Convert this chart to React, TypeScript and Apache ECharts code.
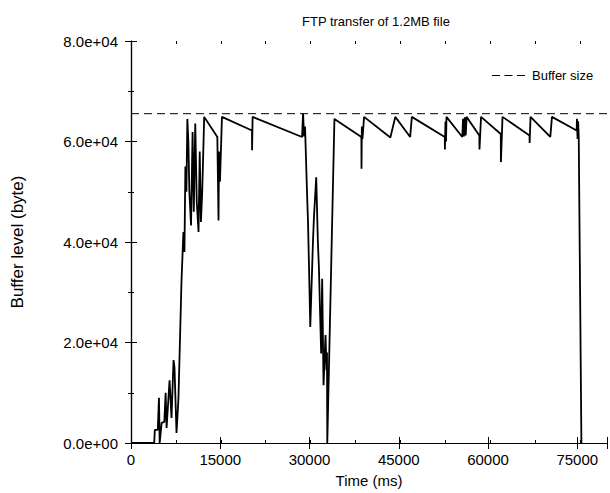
import React, { useEffect, useRef } from "react";
import * as echarts from "echarts";

const chartTitle = "FTP transfer of 1.2MB file";
const xAxisName = "Time (ms)";
const yAxisName = "Buffer level (byte)";
const legendLabel = "Buffer size";
const bufferSize = 65536;

// Time (ms) of each sample of the buffer trace
const timeMs = [
  0, 3900, 4000, 4500, 4700, 4820, 5150, 5600, 5820, 5980, 6480, 6810, 7150, 7310, 7650, 7980,
  8480, 8810, 8980, 9140, 9310, 9470, 9640, 9810, 10090, 10350, 10550, 10800, 11050, 11350,
  11550, 11750, 11970, 12300, 14510, 14710, 14790, 14950, 15290, 20330, 20350, 20440, 28750,
  28920, 29090, 29250, 29580, 29750, 29920, 30130, 30580, 30750, 31130, 31410, 31580, 31960,
  32130, 32360, 32690, 32860, 32940, 32990, 34190, 38720, 38740, 38800, 38900, 39170, 43590,
  44420, 46920, 47200, 52740, 52760, 52850, 52950, 53020, 55680, 55800, 55950, 56100, 56250,
  56400, 58550, 58570, 58830, 62150, 62170, 62440, 66980, 67000, 67150, 70470, 70750, 74900,
  74950, 75050, 75150, 75250, 75700,
];

// Buffer level (byte) of each sample
const bufferBytes = [
  0, 0, 2600, 2600, 9000, 0, 4000, 4200, 10000, 3000, 12500, 5000, 16500, 15000, 2000, 9000,
  32000, 42000, 38000, 55000, 50000, 64500, 60000, 50000, 43300, 61900, 46000, 63600, 48000, 42000,
  58000, 44000, 50000, 64900, 60900, 44300, 58000, 52000, 64900, 62200, 58250, 64900, 60900,
  65600, 61000, 63000, 50000, 44000, 35000, 23100, 40000, 45000, 52900, 40000, 35000, 17800,
  32700, 11500, 21500, 14500, 18000, 0, 64500, 60900, 54600, 63000, 60500, 64900, 60800,
  64900, 60900, 64900, 60900, 58400, 64000, 60000, 64900, 60900, 64500, 61000, 64800, 61200,
  64900, 61200, 58400, 64900, 61500, 55900, 64900, 61200, 59700, 64900, 60900, 64900, 62200,
  64500, 60500, 64000, 61000, 0,
];

const xMin = 0;
const xMax = 80000;
const xMajor = 15000;
const xMinor = 7500;
const yMin = 0;
const yMax = 80000;
const yMajor = 20000;

const FONT = "'Liberation Sans', Arial, Helvetica, sans-serif";
const DASH_ICON = "path://M0,0L8,0L8,1L0,1Z M12.5,0L20.5,0L20.5,1L12.5,1Z M25,0L33,0L33,1L25,1Z";

function fmtExp(v: number): string {
  const s = v.toExponential(1);
  return s.replace(/e([+-])(\d)$/, (_m: string, sign: string, d: string) => "e" + sign + "0" + d);
}

export default function App() {
  const ref = useRef<HTMLDivElement>(null);
  useEffect(() => {
    document.body.style.margin = "0";
    if (!ref.current) return;
    const chart = echarts.init(ref.current, undefined, { renderer: "svg" });
    const black = "#000";
    const axisLine = { show: true, lineStyle: { color: black, width: 1.2 } };
    const trace = timeMs.map((t, i) => [t, bufferBytes[i]]);
    const gridRect = { left: 131, right: -2, top: 41, bottom: 50 };

    const majorX = (pos: string, labels: boolean) => ({
      type: "value",
      gridIndex: 0,
      position: pos,
      min: xMin,
      max: xMax,
      interval: xMajor,
      axisLine,
      axisTick: { show: true, inside: true, length: 6, lineStyle: { color: black, width: 1 } },
      axisLabel: labels
        ? {
            show: true,
            margin: 9,
            color: black,
            fontSize: 15,
            fontFamily: FONT,
            formatter: (v: number) => (v % xMajor === 0 && v < xMax ? String(v) : ""),
          }
        : { show: false },
      splitLine: { show: false },
      ...(labels
        ? {
            name: xAxisName,
            nameLocation: "middle",
            nameGap: 30,
            nameTextStyle: { color: black, fontSize: 15, fontFamily: FONT },
          }
        : {}),
    });
    const minorX = (pos: string) => ({
      type: "value",
      gridIndex: 1,
      position: pos,
      min: xMin,
      max: xMax,
      interval: xMinor,
      axisLine: { show: false },
      axisTick: { show: true, inside: true, length: 3, lineStyle: { color: black, width: 1 } },
      axisLabel: { show: false },
      splitLine: { show: false },
    });
    const majorY = (pos: string, labels: boolean) => ({
      type: "value",
      gridIndex: 0,
      position: pos,
      min: yMin,
      max: yMax,
      interval: yMajor,
      axisLine,
      axisTick: { show: true, inside: true, length: 6, lineStyle: { color: black, width: 1 } },
      minorTick: { show: true, splitNumber: 2, length: 3, lineStyle: { color: black, width: 1 } },
      minorSplitLine: { show: false },
      axisLabel: labels
        ? {
            show: true,
            margin: 13,
            color: black,
            fontSize: 15,
            fontFamily: FONT,
            formatter: (v: number) => fmtExp(v),
          }
        : { show: false },
      splitLine: { show: false },
      ...(labels
        ? {
            name: yAxisName,
            nameLocation: "middle",
            nameGap: 105,
            nameTextStyle: { color: black, fontSize: 17, fontFamily: FONT },
          }
        : {}),
    });

    chart.setOption({
      animation: false,
      backgroundColor: "#fff",
      title: {
        text: chartTitle,
        left: 297,
        top: 10,
        textStyle: { color: black, fontSize: 13, fontWeight: "normal", fontFamily: FONT },
      },
      legend: {
        data: [{ name: legendLabel, icon: DASH_ICON }],
        left: 487,
        top: 64,
        itemWidth: 33,
        itemHeight: 1.2,
        itemGap: 6,
        itemStyle: { color: black, borderWidth: 0 },
        textStyle: { color: black, fontSize: 13, fontFamily: FONT, padding: [0, 0, 0, 2] },
      },
      grid: [{ ...gridRect }, { ...gridRect }],
      xAxis: [majorX("bottom", true), majorX("top", false), minorX("bottom"), minorX("top")],
      yAxis: [
        majorY("left", true),
        majorY("right", false),
        { type: "value", gridIndex: 1, min: yMin, max: yMax, show: false },
      ],
      series: [
        {
          name: "trace",
          type: "line",
          xAxisIndex: 0,
          yAxisIndex: 0,
          data: trace,
          symbol: "none",
          showSymbol: false,
          lineStyle: { color: black, width: 1.8 },
          z: 3,
        },
        {
          name: legendLabel,
          type: "line",
          xAxisIndex: 0,
          yAxisIndex: 0,
          data: [
            [xMin, bufferSize],
            [xMax, bufferSize],
          ],
          symbol: "none",
          showSymbol: false,
          itemStyle: { color: black },
          lineStyle: { color: black, width: 1, type: [8, 5] },
          z: 2,
        },
      ],
    });
    return () => chart.dispose();
  }, []);
  return <div ref={ref} style={{ width: 610, height: 493 }} />;
}
